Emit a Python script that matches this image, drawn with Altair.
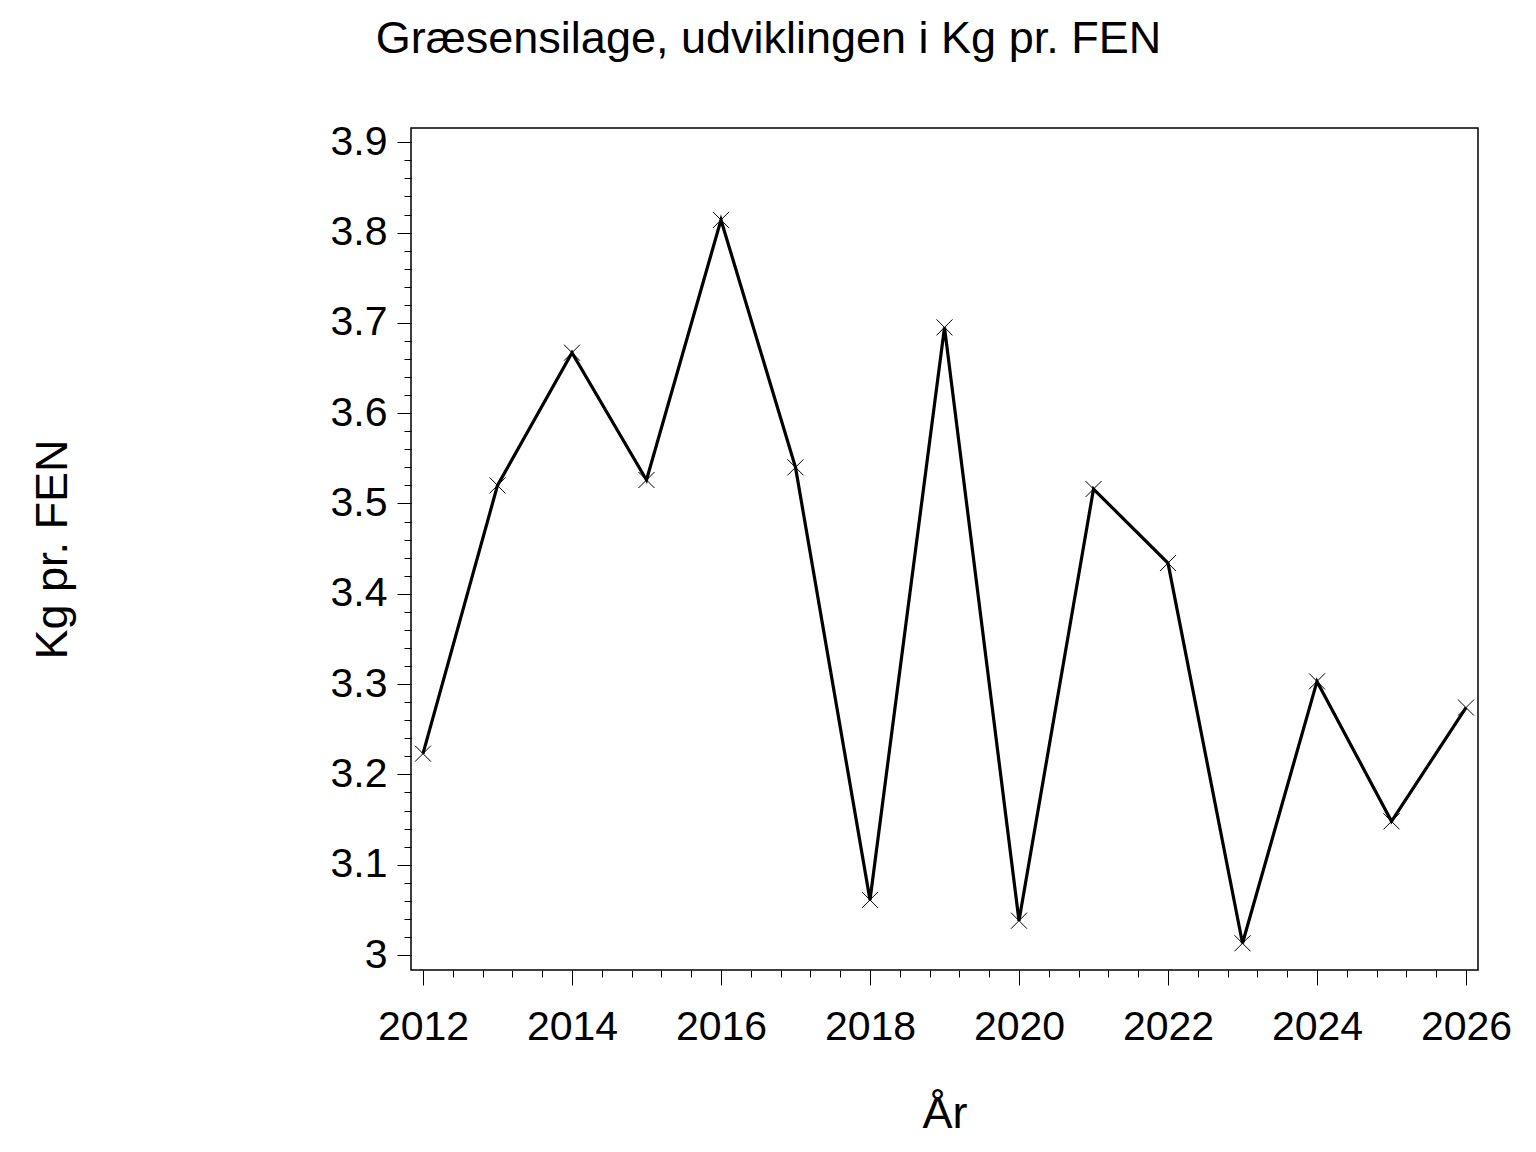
import altair as alt
import pandas as pd

years = [2012, 2013, 2014, 2015, 2016, 2017, 2018, 2019, 2020, 2021, 2022, 2023, 2024, 2025, 2026]
kg_per_fen = [3.223, 3.520, 3.667, 3.526, 3.814, 3.540, 3.061, 3.695, 3.038, 3.516, 3.434, 3.013, 3.303, 3.148, 3.274]

y_major = [3.0, 3.1, 3.2, 3.3, 3.4, 3.5, 3.6, 3.7, 3.8, 3.9]
y_minor = [round(3.0 + 0.02 * i, 2) for i in range(46)]
x_major = [2012, 2014, 2016, 2018, 2020, 2022, 2024, 2026]
x_minor = [round(2012 + 0.4 * i, 1) for i in range(36)]

title_text = "Græsensilage, udviklingen i Kg pr. FEN"
y_title = "Kg pr. FEN"
x_title = "År"

FONT = "Liberation Sans"

df = pd.DataFrame({"year": years, "value": kg_per_fen})

x_scale = alt.Scale(domain=[2011.839, 2026.161], nice=False, zero=False)
y_scale = alt.Scale(domain=[2.9834, 3.9158], nice=False, zero=False)

x_main_axis = alt.Axis(
    values=x_major, format="d", grid=False, domain=False,
    tickSize=15, tickColor="black", tickWidth=1,
    labelFont=FONT, labelFontSize=41, labelColor="black", labelPadding=22,
    labelFlush=False, labelOverlap=False,
    title=x_title, titleFont=FONT, titleFontSize=45, titleFontWeight="normal",
    titleColor="black", titleBaseline="alphabetic", titleY=157, titleX=533.5,
)
y_main_axis = alt.Axis(
    values=y_major, format="~g", grid=False, domain=False,
    tickSize=14, tickColor="black", tickWidth=1,
    labelFont=FONT, labelFontSize=41, labelColor="black", labelPadding=10,
    labelFlush=False, labelOverlap=False,
    title=y_title, titleFont=FONT, titleFontSize=45, titleFontWeight="normal",
    titleColor="black", titleAngle=270, titleBaseline="middle", titleAlign="center",
    titleX=-359, titleY=421,
)
x_minor_axis = alt.Axis(
    orient="bottom", values=x_minor, labels=False, grid=False, domain=False,
    tickSize=7, tickColor="black", tickWidth=1, title=None,
)
y_minor_axis = alt.Axis(
    orient="left", values=y_minor, labels=False, grid=False, domain=False,
    tickSize=7, tickColor="black", tickWidth=1, title=None,
)

base = alt.Chart(df)

line = base.mark_line(color="black", strokeWidth=3.2).encode(
    x=alt.X("year:Q", scale=x_scale, axis=x_main_axis),
    y=alt.Y("value:Q", scale=y_scale, axis=y_main_axis),
)

points = base.mark_point(
    shape="M-1,-1L1,1M-1,1L1,-1", size=256, filled=False,
    stroke="black", strokeWidth=1, opacity=1,
).encode(
    x=alt.X("year:Q", scale=x_scale, axis=x_minor_axis),
    y=alt.Y("value:Q", scale=y_scale, axis=y_minor_axis),
)

chart = alt.layer(line, points).resolve_axis(
    x="independent", y="independent"
).properties(
    width=1067,
    height=842,
    autosize=alt.AutoSizeParams(type="none"),
    padding={"left": 403, "top": 120, "right": 50, "bottom": 174},
    title=alt.TitleParams(
        text=title_text, font=FONT, fontSize=45, fontWeight="normal",
        color="black", anchor="middle", dx=-176, dy=-55,
    ),
).configure(
    background="white"
).configure_view(
    stroke="black", strokeWidth=1.5
)

chart.save("out.html", embed_options={"renderer": "svg", "actions": False})
